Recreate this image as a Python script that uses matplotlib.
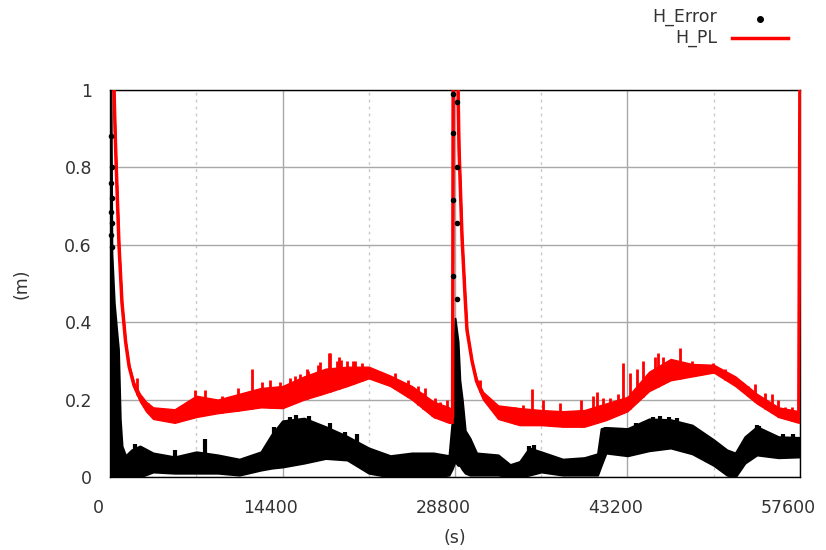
import numpy as np
import matplotlib
matplotlib.use('Agg')
import matplotlib.pyplot as plt
import matplotlib.transforms as mtransforms
from matplotlib.lines import Line2D

# H_PL: lower / upper edge of the noisy red trace (s, m)
pl_t = [250, 420, 500, 750, 1000, 1300, 1600, 2000, 2500, 3000, 3600, 5400, 7200, 9000,
        10800, 12600, 14400, 16200, 18000, 19800, 21600, 23400, 25200, 27000, 28300, 28600,
        28650, 29000, 29135, 29385, 29635, 29800, 30220, 30600, 31140, 32400, 34200, 36000,
        37800, 39600, 41400, 43200, 45000, 46800, 48600, 50400, 52200, 54000, 55800, 57500, 57600]
pl_lo = [1.10, 0.90, 0.82, 0.60, 0.45, 0.35, 0.28, 0.23, 0.195, 0.17, 0.15, 0.14, 0.155, 0.165,
         0.172, 0.18, 0.178, 0.20, 0.217, 0.235, 0.255, 0.235, 0.20, 0.155, 0.14, 0.14,
         1.10, 1.10, 0.85, 0.62, 0.47, 0.38, 0.30, 0.24, 0.20, 0.15, 0.134, 0.134,
         0.13, 0.13, 0.147, 0.17, 0.222, 0.25, 0.26, 0.27, 0.235, 0.19, 0.155, 0.14, 1.10]
pl_hi = [1.10, 0.90, 0.82, 0.60, 0.45, 0.35, 0.29, 0.245, 0.215, 0.195, 0.18, 0.175, 0.21, 0.20,
         0.215, 0.23, 0.235, 0.26, 0.28, 0.285, 0.285, 0.262, 0.235, 0.195, 0.18, 0.17,
         1.10, 1.10, 0.85, 0.62, 0.47, 0.38, 0.30, 0.255, 0.22, 0.185, 0.178, 0.173,
         0.17, 0.173, 0.19, 0.207, 0.272, 0.305, 0.292, 0.29, 0.26, 0.215, 0.18, 0.17, 1.10]

# single spikes on top of the red trace
pl_spike_t = [2254, 3170, 7096, 7931, 9350, 10685, 11854, 12689, 13357, 14190, 15026, 15440,
              15861, 16446, 16530, 17364, 17531, 18282, 18365, 18950, 19117, 19284, 19780,
              20286, 20450, 21037, 23792, 24880, 25044, 25710, 26129, 26300, 26881, 27130,
              27548, 28130, 30888, 33810, 34480, 35229, 36147, 37570, 39319, 40320, 40655,
              41160, 41740, 42410, 42825, 43409, 43994, 44495, 45500, 45747, 46164, 46916,
              47584, 48590, 48836, 50339, 51340, 52760, 53260, 53845, 54680, 55264, 55770,
              56350, 56930]
pl_spike_v = [0.255, 0.19, 0.225, 0.225, 0.21, 0.23, 0.28, 0.245, 0.25, 0.245, 0.255, 0.26,
              0.265, 0.28, 0.275, 0.29, 0.297, 0.32, 0.32, 0.30, 0.31, 0.302, 0.30,
              0.30, 0.30, 0.295, 0.27, 0.25, 0.225, 0.235, 0.216, 0.23, 0.195, 0.205,
              0.195, 0.20, 0.25, 0.18, 0.185, 0.228, 0.20, 0.19, 0.20, 0.21, 0.22,
              0.205, 0.205, 0.215, 0.294, 0.27, 0.28, 0.30, 0.31, 0.32, 0.31, 0.30,
              0.333, 0.30, 0.29, 0.294, 0.28, 0.245, 0.235, 0.24, 0.216, 0.214, 0.20,
              0.18, 0.18]

# H_Error: lower / upper edge of the dense black points (s, m)
err_t = [0, 80, 150, 350, 550, 700, 850, 1000, 1300, 1800, 2500, 3600, 5400, 7200, 9000,
         10800, 12600, 13500, 14400, 16200, 18000, 19800, 21600, 23400, 25200, 27000, 28300,
         28550, 28800, 29050, 29200, 29400, 29650, 30050, 30600, 32400, 33400, 34200, 35000,
         36000, 37800, 39600, 40700, 41000, 41400, 43200, 45000, 46800, 48600, 50400, 51500,
         52200, 53000, 54000, 55800, 57600]
err_lo = [0, 0, 0, 0, 0, 0, 0, 0, 0, 0, 0, 0.013, 0.01, 0.01, 0.01,
          0.005, 0.018, 0.023, 0.026, 0.036, 0.048, 0.044, 0.01, 0, 0, 0, 0.005,
          0.02, 0.04, 0.03, 0.03, 0.02, 0.01, 0.005, 0.005, 0.005, 0, 0, 0.005,
          0.013, 0.005, 0.005, 0.005, 0.03, 0.062, 0.055, 0.068, 0.075, 0.06, 0.03, 0.005,
          0, 0.036, 0.057, 0.05, 0.052]
err_hi = [1.0, 1.0, 0.58, 0.45, 0.38, 0.33, 0.15, 0.08, 0.055, 0.07, 0.08, 0.062, 0.052, 0.065, 0.057,
          0.046, 0.065, 0.11, 0.145, 0.152, 0.13, 0.105, 0.075, 0.055, 0.062, 0.062, 0.055,
          0.14, 0.41, 0.35, 0.25, 0.20, 0.12, 0.10, 0.062, 0.057, 0.032, 0.04, 0.075,
          0.065, 0.046, 0.05, 0.06, 0.125, 0.128, 0.125, 0.15, 0.148, 0.134, 0.096, 0.07,
          0.062, 0.104, 0.13, 0.104, 0.102]

# small bumps on top of the black band
err_spike_t = [2090, 5430, 7931, 13690, 15030, 15500, 16600, 18370, 19600, 20620, 35000,
               35400, 41400, 43900, 45300, 45900, 46640, 47300, 48970, 54000, 54180, 56180, 57010]
err_spike_v = [0.085, 0.07, 0.098, 0.13, 0.155, 0.16, 0.158, 0.14, 0.116, 0.11, 0.08,
               0.082, 0.13, 0.14, 0.155, 0.157, 0.155, 0.152, 0.125, 0.135, 0.133, 0.11, 0.11]

# isolated points above the two start-up peaks
err_dot_t = [120, 200, 120, 200, 120, 200, 120, 200, 28650, 29000, 28650, 29000, 28650, 29000, 28650, 29000]
err_dot_v = [0.88, 0.80, 0.76, 0.72, 0.685, 0.656, 0.625, 0.594, 0.99, 0.97, 0.89, 0.80, 0.716, 0.656, 0.52, 0.46]

x_ticks = [0, 14400, 28800, 43200, 57600]
x_minor = [7200, 21600, 36000, 50400]
y_ticks = [0, 0.2, 0.4, 0.6, 0.8, 1]
y_labels = ['0', '0.2', '0.4', '0.6', '0.8', '1']

txt = '#333333'
plt.rcParams['font.family'] = ['DejaVu Sans']

fig = plt.figure(figsize=(8.26, 5.5), dpi=100)
ax = fig.add_axes([110 / 826, 73 / 550, 690 / 826, 387 / 550])

# black error points
ax.fill_between(err_t, err_lo, err_hi, color='black', lw=1.5, zorder=2)
base = np.interp(err_spike_t, err_t, err_hi)
ax.vlines(err_spike_t, base - 0.02, err_spike_v, color='black', lw=3, zorder=2)
ax.scatter(err_dot_t, err_dot_v, s=9, color='black', zorder=5, clip_on=False)

# red protection level
pl_lo = np.array(pl_lo)
pl_hi = np.array(pl_hi)
ax.fill_between(pl_t, pl_lo, pl_hi, color='red', lw=1, zorder=3)
ax.plot(pl_t, (pl_lo + pl_hi) / 2, color='red', lw=2.5, zorder=3)
base = np.interp(pl_spike_t, pl_t, pl_lo)
ax.vlines(pl_spike_t, base, pl_spike_v, color='red', lw=2, zorder=3)

ax.set_xlim(0, 57600)
ax.set_ylim(0, 1)
ax.set_xticks(x_ticks)
ax.set_xticks(x_minor, minor=True)
ax.set_yticks(y_ticks)
ax.set_yticklabels(y_labels)
ax.set_axisbelow(True)
ax.grid(which='major', color='#a8a8a8', lw=1, ls='-')
ax.grid(which='minor', axis='x', color='#c8c8c8', lw=1, ls=(0, (2, 3)))
ax.tick_params(which='both', length=0, labelsize=12.5, colors=txt)
ax.tick_params(axis='x', pad=16)
ax.tick_params(axis='y', pad=13)
for sp in ax.spines.values():
    sp.set_color('black')
    sp.set_linewidth(1)

# gnuplot puts the x labels a bit to the left
shift = mtransforms.ScaledTranslation(-12 / 100, 0, fig.dpi_scale_trans)
for tk in ax.xaxis.get_major_ticks():
    tk.label1.set_transform(tk.label1.get_transform() + shift)

ax.set_xlabel('(s)', fontsize=12.5, color=txt)
ax.set_ylabel('(m)', fontsize=12.5, color=txt)
ax.xaxis.set_label_coords(0.5, -(529 - 477) / 387)
ax.yaxis.set_label_coords(-(110 - 30) / 690, 0.5)

# key, top right outside the plot
fig.text(717 / 826, 1 - 17 / 550, 'H_Error', ha='right', va='center', fontsize=12.5, color=txt)
fig.text(717 / 826, 1 - 38 / 550, 'H_PL', ha='right', va='center', fontsize=12.5, color=txt)
fig.add_artist(Line2D([760 / 826], [1 - 19 / 550], ls='none', marker='o', ms=4, color='black'))
fig.add_artist(Line2D([732 / 826, 788 / 826], [1 - 38 / 550] * 2, color='red', lw=2.5))

fig.savefig('out.png', dpi=100)
